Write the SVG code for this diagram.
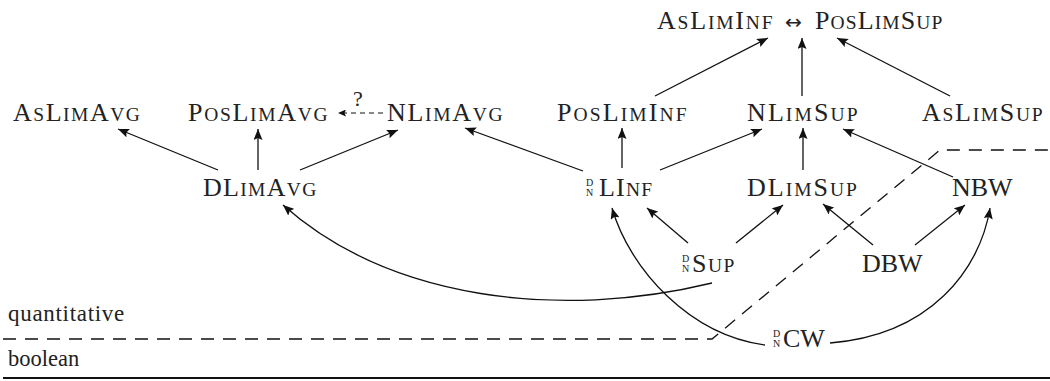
<svg xmlns="http://www.w3.org/2000/svg" width="1050" height="381" viewBox="0 0 1050 381">
<style>
.e{fill:none;stroke:#111;stroke-width:1.3;marker-end:url(#ah)}
.d{fill:none;stroke:#111;stroke-width:1.3;stroke-dasharray:13 9}
</style>
<defs>
<marker id="ah" markerUnits="userSpaceOnUse" markerWidth="12" markerHeight="9" refX="11" refY="4.5" orient="auto">
<path d="M0,0 L11,4.5 L0,9 L2,4.5 z" fill="#111"/>
</marker>
<marker id="ahs" markerUnits="userSpaceOnUse" markerWidth="9" markerHeight="7" refX="8" refY="3.5" orient="auto">
<path d="M0,0 L8,3.5 L0,7 L1.5,3.5 z" fill="#111"/>
</marker>
</defs>

<g id="connectors">
<line class="e" x1="655" y1="96" x2="768" y2="38"/>
<line class="e" x1="802" y1="96" x2="802" y2="38"/>
<line class="e" x1="950" y1="96" x2="837" y2="38"/>
<line class="e" x1="218" y1="170" x2="118" y2="129"/>
<line class="e" x1="258" y1="170" x2="258" y2="129"/>
<line class="e" x1="300" y1="170" x2="398" y2="130"/>
<line class="e" x1="583" y1="171" x2="465" y2="128"/>
<line class="e" x1="622" y1="168" x2="622" y2="128"/>
<line class="e" x1="660" y1="170" x2="762" y2="129"/>
<line class="e" x1="803" y1="170" x2="803" y2="128"/>
<line class="e" x1="953" y1="177" x2="843" y2="129"/>
<line class="e" x1="688" y1="243" x2="647" y2="208"/>
<line class="e" x1="736" y1="243" x2="783" y2="205"/>
<line class="e" x1="873" y1="245" x2="823" y2="204"/>
<line class="e" x1="915" y1="245" x2="965" y2="205"/>
<path class="e" d="M712,283 C560,320 390,300 283,205"/>
<path class="e" d="M765,345 C690,335 630,270 612,208"/>
<path class="e" d="M830,343 C930,335 980,270 990,208"/>
<line x1="383" y1="113" x2="338" y2="113" stroke="#111" stroke-width="1.2" stroke-dasharray="5 4" marker-end="url(#ahs)"/>
<text x="358" y="106" text-anchor="middle" font-family="Liberation Serif" font-size="22" fill="#222">?</text>
</g>

<g id="region-split">
<path class="d" d="M3,339 H712 L940,150 H1050"/>
<text x="8" y="321" font-family="Liberation Serif" font-size="23" letter-spacing="0.7" fill="#222">quantitative</text>
<text x="8" y="366" font-family="Liberation Serif" font-size="22.5" fill="#222">boolean</text>
<line x1="3" y1="378" x2="1050" y2="378" stroke="#111" stroke-width="2"/>
</g>

<g id="top">
<text x="657" y="29" font-family="Liberation Serif" font-size="26" letter-spacing="1.8" fill="#222">A<tspan font-size="19.5">S</tspan>L<tspan font-size="19.5">IM</tspan>I<tspan font-size="19.5">NF</tspan></text>
<text x="793.5" y="29" text-anchor="middle" font-family="DejaVu Sans" font-size="20" fill="#222">↔</text>
<text x="815" y="29" font-family="Liberation Serif" font-size="26" letter-spacing="1.1" fill="#222">P<tspan font-size="19.5">OS</tspan>L<tspan font-size="19.5">IM</tspan>S<tspan font-size="19.5">UP</tspan></text>
</g>

<g id="AsLimAvg"><text x="13" y="121" font-family="Liberation Serif" font-size="26" letter-spacing="1.5" fill="#222">A<tspan font-size="19.5">S</tspan>L<tspan font-size="19.5">IM</tspan>A<tspan font-size="19.5">VG</tspan></text></g>
<g id="PosLimAvg"><text x="188" y="121" font-family="Liberation Serif" font-size="26" letter-spacing="1.7" fill="#222">P<tspan font-size="19.5">OS</tspan>L<tspan font-size="19.5">IM</tspan>A<tspan font-size="19.5">VG</tspan></text></g>
<g id="NLimAvg"><text x="387" y="121" font-family="Liberation Serif" font-size="26" letter-spacing="1.7" fill="#222">NL<tspan font-size="19.5">IM</tspan>A<tspan font-size="19.5">VG</tspan></text></g>
<g id="PosLimInf"><text x="557" y="121" font-family="Liberation Serif" font-size="26" letter-spacing="2.1" fill="#222">P<tspan font-size="19.5">OS</tspan>L<tspan font-size="19.5">IM</tspan>I<tspan font-size="19.5">NF</tspan></text></g>
<g id="NLimSup"><text x="747" y="121" font-family="Liberation Serif" font-size="26" letter-spacing="2.1" fill="#222">NL<tspan font-size="19.5">IM</tspan>S<tspan font-size="19.5">UP</tspan></text></g>
<g id="AsLimSup"><text x="922" y="121" font-family="Liberation Serif" font-size="26" letter-spacing="1.7" fill="#222">A<tspan font-size="19.5">S</tspan>L<tspan font-size="19.5">IM</tspan>S<tspan font-size="19.5">UP</tspan></text></g>

<g id="DLimAvg"><text x="203" y="196" font-family="Liberation Serif" font-size="26" letter-spacing="1.3" fill="#222">DL<tspan font-size="19.5">IM</tspan>A<tspan font-size="19.5">VG</tspan></text></g>
<g id="DNLInf"><text x="586" y="185.5" font-family="Liberation Serif" font-size="10" fill="#222">D</text><text x="586" y="196" font-family="Liberation Serif" font-size="10" fill="#222">N</text><text x="599" y="196" font-family="Liberation Serif" font-size="26" letter-spacing="1.2" fill="#222">LI<tspan font-size="19.5">NF</tspan></text></g>
<g id="DLimSup"><text x="747" y="196" font-family="Liberation Serif" font-size="26" letter-spacing="2" fill="#222">DL<tspan font-size="19.5">IM</tspan>S<tspan font-size="19.5">UP</tspan></text></g>
<g id="NBW"><text x="952" y="196" font-family="Liberation Serif" font-size="26" fill="#222">NBW</text></g>

<g id="DNSup"><text x="682" y="261.5" font-family="Liberation Serif" font-size="10" fill="#222">D</text><text x="682" y="272" font-family="Liberation Serif" font-size="10" fill="#222">N</text><text x="692" y="272" font-family="Liberation Serif" font-size="26" letter-spacing="1.5" fill="#222">S<tspan font-size="19.5">UP</tspan></text></g>
<g id="DBW"><text x="862" y="272" font-family="Liberation Serif" font-size="26" fill="#222">DBW</text></g>

<g id="DNCW"><text x="773" y="336.5" font-family="Liberation Serif" font-size="10" fill="#222">D</text><text x="773" y="347" font-family="Liberation Serif" font-size="10" fill="#222">N</text><text x="783" y="347" font-family="Liberation Serif" font-size="26" fill="#222">CW</text></g>
</svg>
